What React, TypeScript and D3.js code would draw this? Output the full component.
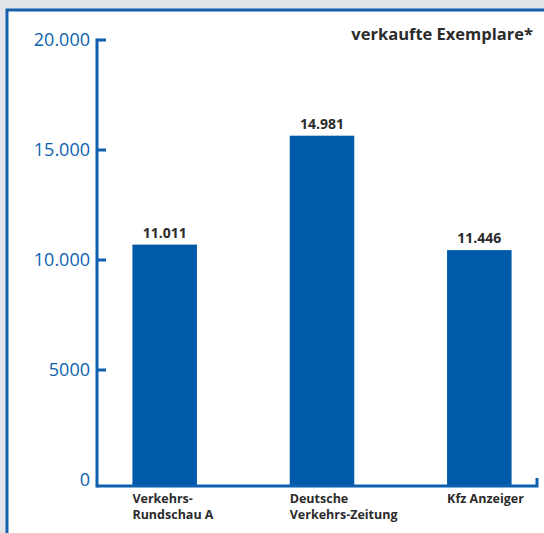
import React, { useEffect, useRef } from "react";
import * as d3 from "d3";

// data
const categories = ["Verkehrs-\nRundschau A", "Deutsche\nVerkehrs-Zeitung", "Kfz Anzeiger"];
const barValues = [10700, 15650, 10450]; // heights as drawn
const valueLabels = ["11.011", "14.981", "11.446"]; // printed numbers
const yTicks = [0, 5000, 10000, 15000, 20000];
const yTickLabels = ["0", "5000", "10.000", "15.000", "20.000"];
const title = "verkaufte Exemplare*";

const BLUE = "#005aaa";
const AXIS = "#0d5fb0";
const TEXT = "#2b2b2b";
const FONT = "'Open Sans', 'Noto Sans', sans-serif";

export default function App() {
  const ref = useRef<SVGSVGElement>(null);

  useEffect(() => {
    const width = 544;
    const height = 533;
    const svg = d3.select(ref.current);
    svg.selectAll("*").remove();

    // background + frame
    svg.append("rect").attr("width", width).attr("height", height).attr("fill", "#e1e5e9");
    svg.append("rect")
      .attr("x", 7).attr("y", 10)
      .attr("width", width + 10).attr("height", height + 10)
      .attr("fill", "white")
      .attr("stroke", "#1560ad")
      .attr("stroke-width", 3);

    const y = d3.scaleLinear().domain([0, 20000]).range([480, 40]);
    const baseY = 486;
    const axisX = 97;

    const x = d3.scaleBand<number>()
      .domain(d3.range(categories.length))
      .range([86, 558])
      .paddingInner(0.59)
      .paddingOuter(0.295);

    // bars
    svg.selectAll("rect.bar")
      .data(barValues)
      .enter()
      .append("rect")
      .attr("class", "bar")
      .attr("x", (d, i) => x(i)!)
      .attr("width", x.bandwidth())
      .attr("y", (d) => y(d))
      .attr("height", (d) => baseY - y(d))
      .attr("fill", BLUE);

    // value labels
    svg.selectAll("text.val")
      .data(barValues)
      .enter()
      .append("text")
      .attr("class", "val")
      .attr("x", (d, i) => x(i)! + x.bandwidth() / 2)
      .attr("y", (d) => y(d) - 7)
      .attr("text-anchor", "middle")
      .attr("font-family", FONT)
      .attr("font-weight", "bold")
      .attr("font-size", 14)
      .attr("fill", TEXT)
      .text((d, i) => valueLabels[i]);

    // y axis line
    svg.append("line")
      .attr("x1", axisX).attr("x2", axisX)
      .attr("y1", y(20000) - 1.5).attr("y2", baseY + 1.5)
      .attr("stroke", AXIS).attr("stroke-width", 3);

    // x axis line with small upturn at the right end
    svg.append("path")
      .attr("d", `M${axisX},${baseY}H537V${baseY - 8}`)
      .attr("fill", "none")
      .attr("stroke", AXIS)
      .attr("stroke-width", 3);

    // ticks
    svg.selectAll("line.tick")
      .data(yTicks.filter((t) => t > 0))
      .enter()
      .append("line")
      .attr("class", "tick")
      .attr("x1", axisX).attr("x2", axisX + 9)
      .attr("y1", (d) => y(d)).attr("y2", (d) => y(d))
      .attr("stroke", AXIS).attr("stroke-width", 3);

    svg.selectAll("text.tl")
      .data(yTicks)
      .enter()
      .append("text")
      .attr("class", "tl")
      .attr("x", 90)
      .attr("y", (d) => y(d))
      .attr("dy", "0.36em")
      .attr("text-anchor", "end")
      .attr("font-family", FONT)
      .attr("font-size", 18)
      .attr("fill", AXIS)
      .text((d, i) => yTickLabels[i]);

    // category labels
    const cat = svg.selectAll("text.cat")
      .data(categories)
      .enter()
      .append("text")
      .attr("class", "cat")
      .attr("x", (d, i) => x(i)!)
      .attr("y", 503)
      .attr("font-family", FONT)
      .attr("font-weight", "bold")
      .attr("font-size", 12.5)
      .attr("fill", TEXT);
    cat.selectAll("tspan")
      .data((d) => d.split("\n"))
      .enter()
      .append("tspan")
      .attr("x", function () {
        return (this as any).parentNode.getAttribute("x");
      })
      .attr("dy", (d, i) => (i === 0 ? 0 : 16))
      .text((d) => d);

    // title
    svg.append("text")
      .attr("x", 533)
      .attr("y", 40)
      .attr("text-anchor", "end")
      .attr("font-family", FONT)
      .attr("font-weight", "bold")
      .attr("font-size", 16.5)
      .attr("fill", TEXT)
      .text(title);
  }, []);

  return (
    <svg
      ref={ref}
      width={544}
      height={533}
      style={{ position: "fixed", top: 0, left: 0, display: "block" }}
    />
  );
}
